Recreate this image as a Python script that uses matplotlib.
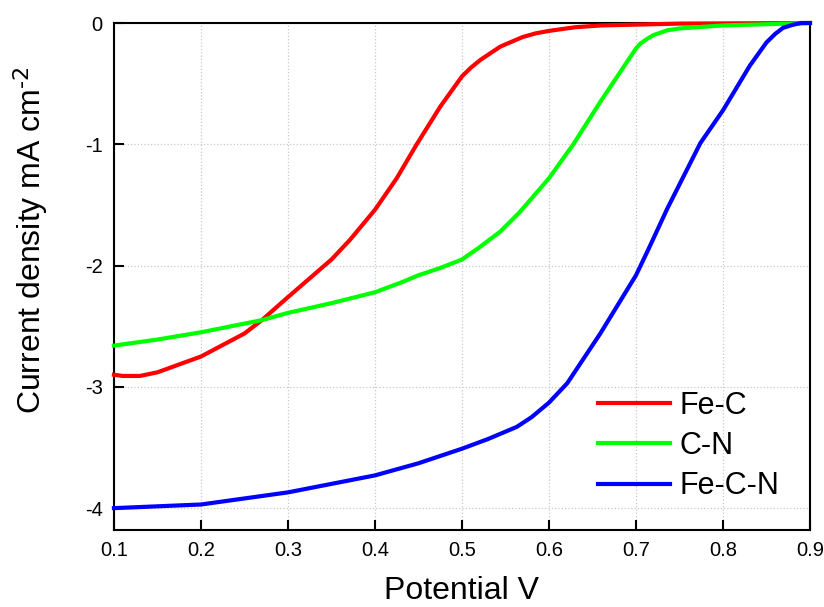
import numpy as np
import matplotlib.pyplot as plt

plt.rcParams['font.family'] = ['Liberation Sans', 'DejaVu Sans']
plt.rcParams['mathtext.default'] = 'regular'

# Fe-C
fec_x = [0.10, 0.11, 0.13, 0.15, 0.20, 0.25, 0.27, 0.30, 0.35, 0.371, 0.40, 0.425, 0.448,
         0.475, 0.50, 0.51, 0.521, 0.544, 0.552, 0.57, 0.585, 0.60, 0.63, 0.66, 0.75, 0.90]
fec_y = [-2.90, -2.91, -2.91, -2.88, -2.75, -2.56, -2.45, -2.26, -1.95, -1.79, -1.54, -1.28, -1.00,
         -0.69, -0.44, -0.37, -0.305, -0.195, -0.17, -0.115, -0.085, -0.065, -0.035, -0.02, -0.005, 0.0]

# C-N
cn_x = [0.10, 0.15, 0.20, 0.27, 0.30, 0.35, 0.40, 0.43, 0.45, 0.475, 0.50, 0.52, 0.544, 0.565,
        0.582, 0.60, 0.628, 0.659, 0.70, 0.705, 0.713, 0.72, 0.736, 0.75, 0.80, 0.90]
cn_y = [-2.66, -2.61, -2.55, -2.45, -2.39, -2.31, -2.22, -2.14, -2.08, -2.02, -1.95, -1.85, -1.72, -1.57,
        -1.43, -1.28, -1.00, -0.65, -0.21, -0.17, -0.13, -0.10, -0.06, -0.045, -0.02, 0.0]

# Fe-C-N
fecn_x = [0.10, 0.20, 0.30, 0.40, 0.43, 0.45, 0.50, 0.53, 0.563, 0.58, 0.60, 0.621, 0.659, 0.70,
          0.714, 0.736, 0.774, 0.80, 0.831, 0.85, 0.86, 0.869, 0.88, 0.89, 0.90]
fecn_y = [-4.00, -3.97, -3.87, -3.73, -3.67, -3.63, -3.51, -3.43, -3.33, -3.25, -3.13, -2.97, -2.56, -2.08,
          -1.87, -1.53, -0.99, -0.72, -0.35, -0.16, -0.09, -0.04, -0.015, 0.0, 0.0]

xticks = [0.1, 0.2, 0.3, 0.4, 0.5, 0.6, 0.7, 0.8, 0.9]
yticks = [0, -1, -2, -3, -4]

fig = plt.figure(figsize=(8.24, 6.07), dpi=100)
ax = fig.add_axes([0.1383, 0.1269, 0.8447, 0.8352])

ax.plot(fec_x, fec_y, color='#ff0000', lw=3, label='Fe-C', clip_on=False, zorder=3)
ax.plot(cn_x, cn_y, color='#00ff00', lw=3, label='C-N', clip_on=False, zorder=3)
ax.plot(fecn_x, fecn_y, color='#0000ff', lw=3, label='Fe-C-N', clip_on=False, zorder=3)

ax.set_xlim(0.1, 0.9)
ax.set_ylim(-4.18, 0)
ax.set_xticks(xticks)
ax.set_xticklabels(['%.1f' % v for v in xticks])
ax.set_yticks(yticks)
ax.set_yticklabels(['%d' % v for v in yticks])

ax.grid(True, linestyle=':', color='#c8c8c8', lw=0.9, zorder=0)
ax.set_axisbelow(True)

for s in ax.spines.values():
    s.set_linewidth(1.5)
ax.tick_params(direction='in', length=7, width=1.5, labelsize=14.5, pad=8,
               top=False, right=False)

ax.set_xlabel('Potential V', fontsize=23)
ax.set_ylabel('Current density mA cm$^{\\text{-2}}$', fontsize=23)
ax.xaxis.set_label_coords(0.5, -0.09)
ax.yaxis.set_label_coords(-0.092, 0.572)

ax.legend(loc='upper left', bbox_to_anchor=(0.695, 0.274), frameon=False, fontsize=22,
          borderpad=0, borderaxespad=0, handlelength=2.36, handletextpad=0.33,
          labelspacing=0.33)

fig.savefig('out.png', dpi=100)
